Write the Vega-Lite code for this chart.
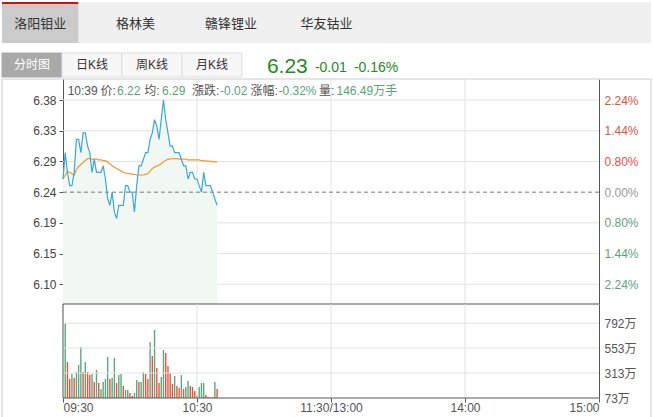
{
  "$schema": "https://vega.github.io/schema/vega-lite/v6.json",
  "padding": {"left": 1, "top": 2, "right": 0, "bottom": 0},
  "spacing": 0,
  "bounds": "flush",
  "background": "white",
  "config": {
    "view": {"stroke": null},
    "font": "Liberation Sans, Noto Sans CJK SC",
    "axis": {"labelFont": "Liberation Sans, Noto Sans CJK SC"},
    "text": {"font": "Liberation Sans, Noto Sans CJK SC"}
  },
  "datasets": {
    "tabs": [
      {"name": "洛阳钼业", "sel": true},
      {"name": "格林美", "sel": false},
      {"name": "赣锋锂业", "sel": false},
      {"name": "华友钴业", "sel": false}
    ],
    "btns": [
      {"name": "分时图", "sel": true},
      {"name": "日K线", "sel": false},
      {"name": "周K线", "sel": false},
      {"name": "月K线", "sel": false}
    ],
    "quote": [
      {"last": "6.23", "chg": "-0.01", "pct": "-0.16%", "time": "10:39", "cur": "6.22", "avg": "6.29", "tchg": "-0.02", "tpct": "-0.32%", "tvol": "146.49万手"}
    ],
    "plevels": [{"lv": 6.1002}, {"lv": 6.1468}, {"lv": 6.1934}, {"lv": 6.2866}, {"lv": 6.3332}, {"lv": 6.3798}],
    "vgrid": [{"t": 60}, {"t": 120}, {"t": 180}],
    "vlevels": [{"lv": 313}, {"lv": 553}, {"lv": 792}],
    "price": [
      {"t": 0, "p": 6.26, "a": 6.260}, {"t": 1, "p": 6.30, "a": 6.266}, {"t": 2, "p": 6.27, "a": 6.271},
      {"t": 3, "p": 6.25, "a": 6.270}, {"t": 4, "p": 6.25, "a": 6.268}, {"t": 5, "p": 6.27, "a": 6.266},
      {"t": 6, "p": 6.32, "a": 6.274}, {"t": 7, "p": 6.32, "a": 6.279}, {"t": 8, "p": 6.30, "a": 6.282},
      {"t": 9, "p": 6.33, "a": 6.285}, {"t": 10, "p": 6.33, "a": 6.288}, {"t": 11, "p": 6.31, "a": 6.291},
      {"t": 12, "p": 6.30, "a": 6.291}, {"t": 13, "p": 6.27, "a": 6.290}, {"t": 14, "p": 6.29, "a": 6.290},
      {"t": 15, "p": 6.27, "a": 6.290}, {"t": 16, "p": 6.27, "a": 6.289}, {"t": 17, "p": 6.27, "a": 6.289},
      {"t": 18, "p": 6.28, "a": 6.288}, {"t": 19, "p": 6.26, "a": 6.288}, {"t": 20, "p": 6.23, "a": 6.285},
      {"t": 21, "p": 6.22, "a": 6.283}, {"t": 22, "p": 6.24, "a": 6.280}, {"t": 23, "p": 6.21, "a": 6.278},
      {"t": 24, "p": 6.20, "a": 6.276}, {"t": 25, "p": 6.22, "a": 6.274}, {"t": 26, "p": 6.22, "a": 6.272},
      {"t": 27, "p": 6.22, "a": 6.270}, {"t": 28, "p": 6.25, "a": 6.269}, {"t": 29, "p": 6.25, "a": 6.268},
      {"t": 30, "p": 6.24, "a": 6.268}, {"t": 31, "p": 6.24, "a": 6.267}, {"t": 32, "p": 6.21, "a": 6.267},
      {"t": 33, "p": 6.25, "a": 6.266}, {"t": 34, "p": 6.28, "a": 6.266}, {"t": 35, "p": 6.28, "a": 6.266},
      {"t": 36, "p": 6.29, "a": 6.266}, {"t": 37, "p": 6.30, "a": 6.267}, {"t": 38, "p": 6.30, "a": 6.268},
      {"t": 39, "p": 6.32, "a": 6.272}, {"t": 40, "p": 6.33, "a": 6.276}, {"t": 41, "p": 6.35, "a": 6.278},
      {"t": 42, "p": 6.34, "a": 6.280}, {"t": 43, "p": 6.32, "a": 6.281}, {"t": 44, "p": 6.35, "a": 6.283},
      {"t": 45, "p": 6.38, "a": 6.286}, {"t": 46, "p": 6.35, "a": 6.288}, {"t": 47, "p": 6.33, "a": 6.290},
      {"t": 48, "p": 6.31, "a": 6.290}, {"t": 49, "p": 6.31, "a": 6.291}, {"t": 50, "p": 6.30, "a": 6.291},
      {"t": 51, "p": 6.30, "a": 6.291}, {"t": 52, "p": 6.30, "a": 6.290}, {"t": 53, "p": 6.29, "a": 6.290},
      {"t": 54, "p": 6.28, "a": 6.290}, {"t": 55, "p": 6.28, "a": 6.290}, {"t": 56, "p": 6.26, "a": 6.289},
      {"t": 57, "p": 6.27, "a": 6.289}, {"t": 58, "p": 6.27, "a": 6.289}, {"t": 59, "p": 6.26, "a": 6.289},
      {"t": 60, "p": 6.26, "a": 6.289}, {"t": 61, "p": 6.25, "a": 6.289}, {"t": 62, "p": 6.24, "a": 6.288},
      {"t": 63, "p": 6.27, "a": 6.288}, {"t": 64, "p": 6.25, "a": 6.287}, {"t": 65, "p": 6.25, "a": 6.287},
      {"t": 66, "p": 6.25, "a": 6.287}, {"t": 67, "p": 6.24, "a": 6.286}, {"t": 68, "p": 6.23, "a": 6.286},
      {"t": 69, "p": 6.22, "a": 6.286}
    ],
    "vol": [
      {"t": 1, "v": 792, "dir": "down"}, {"t": 2, "v": 419, "dir": "up"}, {"t": 3, "v": 256, "dir": "up"},
      {"t": 4, "v": 304, "dir": "down"}, {"t": 5, "v": 266, "dir": "up"}, {"t": 6, "v": 323, "dir": "down"},
      {"t": 7, "v": 391, "dir": "down"}, {"t": 8, "v": 564, "dir": "down"}, {"t": 9, "v": 323, "dir": "up"},
      {"t": 10, "v": 419, "dir": "down"}, {"t": 11, "v": 323, "dir": "up"}, {"t": 12, "v": 294, "dir": "up"},
      {"t": 13, "v": 304, "dir": "down"}, {"t": 14, "v": 227, "dir": "up"}, {"t": 15, "v": 342, "dir": "down"},
      {"t": 16, "v": 217, "dir": "up"}, {"t": 17, "v": 160, "dir": "down"}, {"t": 18, "v": 227, "dir": "down"},
      {"t": 19, "v": 256, "dir": "down"}, {"t": 20, "v": 468, "dir": "down"}, {"t": 21, "v": 256, "dir": "up"},
      {"t": 22, "v": 266, "dir": "down"}, {"t": 23, "v": 458, "dir": "down"}, {"t": 24, "v": 217, "dir": "up"},
      {"t": 25, "v": 294, "dir": "down"}, {"t": 26, "v": 304, "dir": "down"}, {"t": 27, "v": 188, "dir": "up"},
      {"t": 28, "v": 150, "dir": "down"}, {"t": 29, "v": 150, "dir": "down"}, {"t": 30, "v": 121, "dir": "up"},
      {"t": 31, "v": 92, "dir": "up"}, {"t": 32, "v": 121, "dir": "down"}, {"t": 33, "v": 246, "dir": "down"},
      {"t": 34, "v": 227, "dir": "up"}, {"t": 35, "v": 227, "dir": "down"}, {"t": 36, "v": 323, "dir": "down"},
      {"t": 37, "v": 304, "dir": "up"}, {"t": 38, "v": 256, "dir": "up"}, {"t": 39, "v": 612, "dir": "down"},
      {"t": 40, "v": 477, "dir": "up"}, {"t": 41, "v": 728, "dir": "down"}, {"t": 42, "v": 362, "dir": "up"},
      {"t": 43, "v": 217, "dir": "up"}, {"t": 44, "v": 275, "dir": "down"}, {"t": 45, "v": 535, "dir": "down"},
      {"t": 46, "v": 506, "dir": "up"}, {"t": 47, "v": 381, "dir": "up"}, {"t": 48, "v": 314, "dir": "up"},
      {"t": 49, "v": 208, "dir": "up"}, {"t": 50, "v": 285, "dir": "down"}, {"t": 51, "v": 188, "dir": "up"},
      {"t": 52, "v": 169, "dir": "up"}, {"t": 53, "v": 294, "dir": "down"}, {"t": 54, "v": 160, "dir": "up"},
      {"t": 55, "v": 179, "dir": "down"}, {"t": 56, "v": 237, "dir": "down"}, {"t": 57, "v": 188, "dir": "up"},
      {"t": 58, "v": 179, "dir": "up"}, {"t": 59, "v": 140, "dir": "up"}, {"t": 60, "v": 100, "dir": "down"},
      {"t": 61, "v": 179, "dir": "down"}, {"t": 62, "v": 217, "dir": "down"}, {"t": 63, "v": 217, "dir": "down"},
      {"t": 64, "v": 102, "dir": "up"}, {"t": 65, "v": 85, "dir": "down"}, {"t": 66, "v": 80, "dir": "down"},
      {"t": 67, "v": 80, "dir": "down"}, {"t": 68, "v": 227, "dir": "down"}, {"t": 69, "v": 160, "dir": "up"}
    ]
  },
  "vconcat": [
    {
      "width": 649,
      "height": 41,
      "view": {"fill": "#f0f0f0", "stroke": null},
      "data": {"name": "tabs"},
      "layer": [
        {
          "transform": [{"filter": "datum.sel"}],
          "mark": {"type": "rect", "fill": "#cbcbcb"},
          "encoding": {
            "x": {"field": "name", "type": "nominal", "axis": null, "scale": {"domain": ["洛阳钼业", "格林美", "赣锋锂业", "华友钴业", "_a", "_b", "_c"], "paddingInner": 0.2, "paddingOuter": 0, "align": 0}},
            "y": {"datum": 0, "type": "quantitative", "axis": null, "scale": {"domain": [0, 1], "nice": false, "zero": false}},
            "y2": {"datum": 0.951}
          }
        },
        {
          "transform": [{"filter": "datum.sel"}],
          "mark": {"type": "rect", "fill": "#cc1111"},
          "encoding": {
            "x": {"field": "name", "type": "nominal", "axis": null, "scale": {"domain": ["洛阳钼业", "格林美", "赣锋锂业", "华友钴业", "_a", "_b", "_c"], "paddingInner": 0.2, "paddingOuter": 0, "align": 0}},
            "y": {"datum": 0.951, "type": "quantitative", "axis": null, "scale": {"domain": [0, 1], "nice": false, "zero": false}},
            "y2": {"datum": 1}
          }
        },
        {
          "mark": {"type": "text", "fontSize": 13, "color": "#333333", "baseline": "middle"},
          "encoding": {
            "x": {"field": "name", "type": "nominal", "axis": null, "scale": {"domain": ["洛阳钼业", "格林美", "赣锋锂业", "华友钴业", "_a", "_b", "_c"], "paddingInner": 0.2, "paddingOuter": 0, "align": 0}},
            "y": {"datum": 0.463, "type": "quantitative", "axis": null, "scale": {"domain": [0, 1], "nice": false, "zero": false}},
            "text": {"field": "name"}
          }
        }
      ]
    },
    {
      "width": 649,
      "height": 36,
      "layer": [
        {
          "data": {"name": "btns"},
          "mark": {"type": "rect", "strokeWidth": 1},
          "encoding": {
            "x": {"field": "name", "type": "nominal", "axis": null, "scale": {"domain": ["分时图", "日K线", "周K线", "月K线", "_a", "_b", "_c", "_d", "_e", "_f"], "paddingInner": 0, "paddingOuter": 0.41, "align": 0}},
            "y": {"datum": 0.056, "type": "quantitative", "axis": null, "scale": {"domain": [0, 1], "nice": false, "zero": false}},
            "y2": {"datum": 0.722},
            "fill": {"condition": {"test": "datum.sel", "value": "#a9a9a9"}, "value": "#f7f7f7"},
            "stroke": {"condition": {"test": "datum.sel", "value": "#a9a9a9"}, "value": "#dddddd"}
          }
        },
        {
          "data": {"name": "btns"},
          "mark": {"type": "text", "fontSize": 12, "baseline": "middle"},
          "encoding": {
            "x": {"field": "name", "type": "nominal", "axis": null, "scale": {"domain": ["分时图", "日K线", "周K线", "月K线", "_a", "_b", "_c", "_d", "_e", "_f"], "paddingInner": 0, "paddingOuter": 0.41, "align": 0}},
            "y": {"datum": 0.389, "type": "quantitative", "axis": null, "scale": {"domain": [0, 1], "nice": false, "zero": false}},
            "text": {"field": "name"},
            "color": {"condition": {"test": "datum.sel", "value": "#ffffff"}, "value": "#333333"}
          }
        },
        {
          "data": {"name": "quote"},
          "mark": {"type": "text", "fontSize": 21, "align": "left", "baseline": "alphabetic", "dx": 25, "color": "#1f8a1f"},
          "encoding": {
            "x": {"datum": "月K线", "type": "nominal", "bandPosition": 1, "axis": null},
            "y": {"datum": 0.175, "type": "quantitative", "axis": null},
            "text": {"field": "last"}
          }
        },
        {
          "data": {"name": "quote"},
          "mark": {"type": "text", "fontSize": 14, "align": "left", "baseline": "alphabetic", "dx": 73, "color": "#1f8a1f"},
          "encoding": {
            "x": {"datum": "月K线", "type": "nominal", "bandPosition": 1, "axis": null},
            "y": {"datum": 0.2, "type": "quantitative", "axis": null},
            "text": {"field": "chg"}
          }
        },
        {
          "data": {"name": "quote"},
          "mark": {"type": "text", "fontSize": 14, "align": "left", "baseline": "alphabetic", "dx": 112, "color": "#1f8a1f"},
          "encoding": {
            "x": {"datum": "月K线", "type": "nominal", "bandPosition": 1, "axis": null},
            "y": {"datum": 0.2, "type": "quantitative", "axis": null},
            "text": {"field": "pct"}
          }
        }
      ]
    },
    {
      "width": 649,
      "height": 225,
      "resolve": {"axis": {"y": "independent", "x": "independent"}},
      "layer": [
        {
          "data": {"name": "vgrid"},
          "mark": {"type": "rule", "color": "#e2e2e2"},
          "encoding": {
            "x": {"field": "t", "type": "quantitative", "axis": null, "scale": {"domain": [-27.31, 263.29], "nice": false, "zero": false}}
          }
        },
        {
          "data": {"name": "plevels"},
          "mark": {"type": "rule", "color": "#e2e2e2"},
          "encoding": {
            "x": {"datum": 0, "type": "quantitative", "axis": null, "scale": {"domain": [-27.31, 263.29], "nice": false, "zero": false}},
            "x2": {"datum": 240},
            "y": {"field": "lv", "type": "quantitative", "axis": null, "scale": {"domain": [6.0703, 6.4117], "nice": false, "zero": false}}
          }
        },
        {
          "data": {"name": "price"},
          "mark": {"type": "area", "color": "#f1f8f3"},
          "encoding": {
            "x": {"field": "t", "type": "quantitative", "axis": null, "scale": {"domain": [-27.31, 263.29], "nice": false, "zero": false}},
            "y": {
              "field": "p", "type": "quantitative",
              "scale": {"domain": [6.0703, 6.4117], "nice": false, "zero": false},
              "axis": {
                "orient": "left", "offset": -61, "title": null, "grid": false,
                "values": [6.1002, 6.1468, 6.1934, 6.24, 6.2866, 6.3332, 6.3798],
                "format": ".2f", "labelColor": "#444444", "labelFontSize": 12,
                "domainColor": "#555555", "tickColor": "#555555", "tickSize": 4, "labelPadding": 3
              }
            },
            "y2": {"datum": 6.0703}
          }
        },
        {
          "data": {"name": "quote"},
          "mark": {"type": "rule", "color": "#777777", "strokeDash": [4, 3]},
          "encoding": {
            "x": {"datum": 0, "type": "quantitative", "axis": null, "scale": {"domain": [-27.31, 263.29], "nice": false, "zero": false}},
            "x2": {"datum": 240},
            "y": {"datum": 6.24, "type": "quantitative", "axis": null, "scale": {"domain": [6.0703, 6.4117], "nice": false, "zero": false}}
          }
        },
        {
          "data": {"name": "price"},
          "mark": {"type": "line", "color": "#f2992e", "strokeWidth": 1.2},
          "encoding": {
            "x": {"field": "t", "type": "quantitative", "axis": null, "scale": {"domain": [-27.31, 263.29], "nice": false, "zero": false}},
            "y": {"field": "a", "type": "quantitative", "axis": null, "scale": {"domain": [6.0703, 6.4117], "nice": false, "zero": false}}
          }
        },
        {
          "data": {"name": "price"},
          "mark": {"type": "line", "color": "#3ea6d9", "strokeWidth": 1.2},
          "encoding": {
            "x": {"field": "t", "type": "quantitative", "axis": null, "scale": {"domain": [-27.31, 263.29], "nice": false, "zero": false}},
            "y": {"field": "p", "type": "quantitative", "axis": null, "scale": {"domain": [6.0703, 6.4117], "nice": false, "zero": false}}
          }
        },
        {
          "data": {"name": "plevels"},
          "mark": {"type": "point", "opacity": 0},
          "encoding": {
            "x": {"datum": 0, "type": "quantitative", "axis": null, "scale": {"domain": [-27.31, 263.29], "nice": false, "zero": false}},
            "y": {
              "field": "lv", "type": "quantitative",
              "scale": {"domain": [6.0703, 6.4117], "nice": false, "zero": false},
              "axis": {
                "orient": "right", "offset": -52, "title": null, "grid": false, "ticks": false,
                "values": [6.1002, 6.1468, 6.1934, 6.24, 6.2866, 6.3332, 6.3798],
                "labelExpr": "datum.value > 6.37 ? '2.24%' : datum.value > 6.32 ? '1.44%' : datum.value > 6.25 ? '0.80%' : datum.value > 6.23 ? '0.00%' : datum.value > 6.17 ? '0.80%' : datum.value > 6.12 ? '1.44%' : '2.24%'",
                "labelFontSize": 12, "labelPadding": 5, "domainColor": "#555555",
                "labelColor": {"condition": [{"test": "datum.value > 6.25", "value": "#e0533f"}, {"test": "datum.value < 6.23", "value": "#5ca57b"}], "value": "#999999"}
              }
            }
          }
        },
        {
          "data": {"name": "quote"},
          "mark": {"type": "rule", "color": "#555555"},
          "encoding": {
            "x": {"datum": 0, "type": "quantitative", "axis": null, "scale": {"domain": [-27.31, 263.29], "nice": false, "zero": false}},
            "x2": {"datum": 240},
            "y": {"datum": 6.0703, "type": "quantitative", "axis": null, "scale": {"domain": [6.0703, 6.4117], "nice": false, "zero": false}}
          }
        },
        {
          "data": {"name": "quote"},
          "mark": {"type": "rule", "color": "#cccccc"},
          "encoding": {
            "y": {"datum": 6.4117, "type": "quantitative", "axis": null, "scale": {"domain": [6.0703, 6.4117], "nice": false, "zero": false}}
          }
        },
        {
          "data": {"name": "quote"},
          "mark": {"type": "rule", "color": "#cccccc"},
          "encoding": {
            "x": {"datum": -27.31, "type": "quantitative", "axis": null, "scale": {"domain": [-27.31, 263.29], "nice": false, "zero": false}}
          }
        },
        {
          "data": {"name": "quote"},
          "mark": {"type": "rule", "color": "#cccccc"},
          "encoding": {
            "x": {"datum": 263.29, "type": "quantitative", "axis": null, "scale": {"domain": [-27.31, 263.29], "nice": false, "zero": false}}
          }
        },
        {
          "data": {"name": "quote"},
          "mark": {"type": "text", "fontSize": 12, "align": "left", "baseline": "middle", "dx": 4.7, "color": "#555555"},
          "encoding": {
            "x": {"datum": 0, "type": "quantitative", "axis": null},
            "y": {"datum": 6.394, "type": "quantitative", "axis": null},
            "text": {"field": "time"}
          }
        },
        {
          "data": {"name": "quote"},
          "mark": {"type": "text", "fontSize": 12, "align": "left", "baseline": "middle", "dx": 37.5, "color": "#555555", "text": "价:"},
          "encoding": {
            "x": {"datum": 0, "type": "quantitative", "axis": null},
            "y": {"datum": 6.394, "type": "quantitative", "axis": null}
          }
        },
        {
          "data": {"name": "quote"},
          "mark": {"type": "text", "fontSize": 12, "align": "left", "baseline": "middle", "dx": 54, "color": "#5aa47c"},
          "encoding": {
            "x": {"datum": 0, "type": "quantitative", "axis": null},
            "y": {"datum": 6.394, "type": "quantitative", "axis": null},
            "text": {"field": "cur"}
          }
        },
        {
          "data": {"name": "quote"},
          "mark": {"type": "text", "fontSize": 12, "align": "left", "baseline": "middle", "dx": 81.3, "color": "#555555", "text": "均:"},
          "encoding": {
            "x": {"datum": 0, "type": "quantitative", "axis": null},
            "y": {"datum": 6.394, "type": "quantitative", "axis": null}
          }
        },
        {
          "data": {"name": "quote"},
          "mark": {"type": "text", "fontSize": 12, "align": "left", "baseline": "middle", "dx": 99, "color": "#5aa47c"},
          "encoding": {
            "x": {"datum": 0, "type": "quantitative", "axis": null},
            "y": {"datum": 6.394, "type": "quantitative", "axis": null},
            "text": {"field": "avg"}
          }
        },
        {
          "data": {"name": "quote"},
          "mark": {"type": "text", "fontSize": 12, "align": "left", "baseline": "middle", "dx": 129, "color": "#555555", "text": "漲跌:"},
          "encoding": {
            "x": {"datum": 0, "type": "quantitative", "axis": null},
            "y": {"datum": 6.394, "type": "quantitative", "axis": null}
          }
        },
        {
          "data": {"name": "quote"},
          "mark": {"type": "text", "fontSize": 12, "align": "left", "baseline": "middle", "dx": 157, "color": "#5aa47c"},
          "encoding": {
            "x": {"datum": 0, "type": "quantitative", "axis": null},
            "y": {"datum": 6.394, "type": "quantitative", "axis": null},
            "text": {"field": "tchg"}
          }
        },
        {
          "data": {"name": "quote"},
          "mark": {"type": "text", "fontSize": 12, "align": "left", "baseline": "middle", "dx": 187.5, "color": "#555555", "text": "涨幅:"},
          "encoding": {
            "x": {"datum": 0, "type": "quantitative", "axis": null},
            "y": {"datum": 6.394, "type": "quantitative", "axis": null}
          }
        },
        {
          "data": {"name": "quote"},
          "mark": {"type": "text", "fontSize": 12, "align": "left", "baseline": "middle", "dx": 215.5, "color": "#5aa47c"},
          "encoding": {
            "x": {"datum": 0, "type": "quantitative", "axis": null},
            "y": {"datum": 6.394, "type": "quantitative", "axis": null},
            "text": {"field": "tpct"}
          }
        },
        {
          "data": {"name": "quote"},
          "mark": {"type": "text", "fontSize": 12, "align": "left", "baseline": "middle", "dx": 256, "color": "#555555", "text": "量:"},
          "encoding": {
            "x": {"datum": 0, "type": "quantitative", "axis": null},
            "y": {"datum": 6.394, "type": "quantitative", "axis": null}
          }
        },
        {
          "data": {"name": "quote"},
          "mark": {"type": "text", "fontSize": 12, "align": "left", "baseline": "middle", "dx": 273.5, "color": "#5aa47c"},
          "encoding": {
            "x": {"datum": 0, "type": "quantitative", "axis": null},
            "y": {"datum": 6.394, "type": "quantitative", "axis": null},
            "text": {"field": "tvol"}
          }
        }
      ]
    },
    {
      "width": 649,
      "height": 94,
      "resolve": {"axis": {"y": "independent", "x": "independent"}},
      "layer": [
        {
          "data": {"name": "vol"},
          "mark": {"type": "rule", "strokeWidth": 1.4},
          "encoding": {
            "x": {
              "field": "t", "type": "quantitative",
              "scale": {"domain": [-27.31, 263.29], "nice": false, "zero": false},
              "axis": {
                "orient": "bottom", "title": null, "grid": false, "domain": false,
                "values": [0, 60, 120, 180, 240],
                "labelExpr": "datum.value == 0 ? '09:30' : datum.value == 60 ? '10:30' : datum.value == 120 ? '11:30/13:00' : datum.value == 180 ? '14:00' : '15:00'",
                "ticks": true, "tickSize": 4, "tickColor": "#555555",
                "labelColor": "#555555", "labelFontSize": 12, "labelPadding": 0,
                "labelFlush": false, "labelOverlap": false,
                "labelAlign": {"condition": [{"test": "datum.value == 0", "value": "left"}, {"test": "datum.value == 240", "value": "right"}], "value": "center"}
              }
            },
            "y": {"field": "v", "type": "quantitative", "axis": null, "scale": {"domain": [73, 977.8], "nice": false, "zero": false}},
            "y2": {"datum": 73},
            "color": {"field": "dir", "type": "nominal", "legend": null, "scale": {"domain": ["up", "down"], "range": ["#e2553f", "#5ea67d"]}}
          }
        },
        {
          "data": {"name": "vgrid"},
          "mark": {"type": "rule", "color": "#e2e2e2"},
          "encoding": {
            "x": {"field": "t", "type": "quantitative", "axis": null}
          }
        },
        {
          "data": {"name": "vlevels"},
          "mark": {"type": "rule", "color": "#e2e2e2"},
          "encoding": {
            "x": {"datum": 0, "type": "quantitative", "axis": null},
            "x2": {"datum": 240},
            "y": {"field": "lv", "type": "quantitative", "axis": null}
          }
        },
        {
          "data": {"name": "vlevels"},
          "mark": {"type": "point", "opacity": 0},
          "encoding": {
            "x": {"datum": 0, "type": "quantitative", "axis": null},
            "y": {
              "field": "lv", "type": "quantitative",
              "scale": {"domain": [73, 977.8], "nice": false, "zero": false},
              "axis": {
                "orient": "right", "offset": -52, "title": null, "grid": false, "ticks": false,
                "values": [73, 313, 553, 792],
                "labelExpr": "datum.value + '万'",
                "labelFontSize": 12, "labelPadding": 5, "labelColor": "#555555", "domainColor": "#555555"
              }
            }
          }
        },
        {
          "data": {"name": "quote"},
          "mark": {"type": "rule", "color": "#555555"},
          "encoding": {
            "x": {"datum": 0, "type": "quantitative", "axis": null}
          }
        },
        {
          "data": {"name": "quote"},
          "mark": {"type": "rule", "color": "#555555"},
          "encoding": {
            "x": {"datum": 0, "type": "quantitative", "axis": null},
            "x2": {"datum": 240},
            "y": {"datum": 73, "type": "quantitative", "axis": null}
          }
        },
        {
          "data": {"name": "quote"},
          "mark": {"type": "rule", "color": "#cccccc"},
          "encoding": {
            "x": {"datum": -27.31, "type": "quantitative", "axis": null},
            "y": {"datum": 977.8, "type": "quantitative", "axis": null},
            "y2": {"datum": -110}
          }
        },
        {
          "data": {"name": "quote"},
          "mark": {"type": "rule", "color": "#cccccc"},
          "encoding": {
            "x": {"datum": 263.29, "type": "quantitative", "axis": null},
            "y": {"datum": 977.8, "type": "quantitative", "axis": null},
            "y2": {"datum": -110}
          }
        }
      ]
    }
  ]
}
